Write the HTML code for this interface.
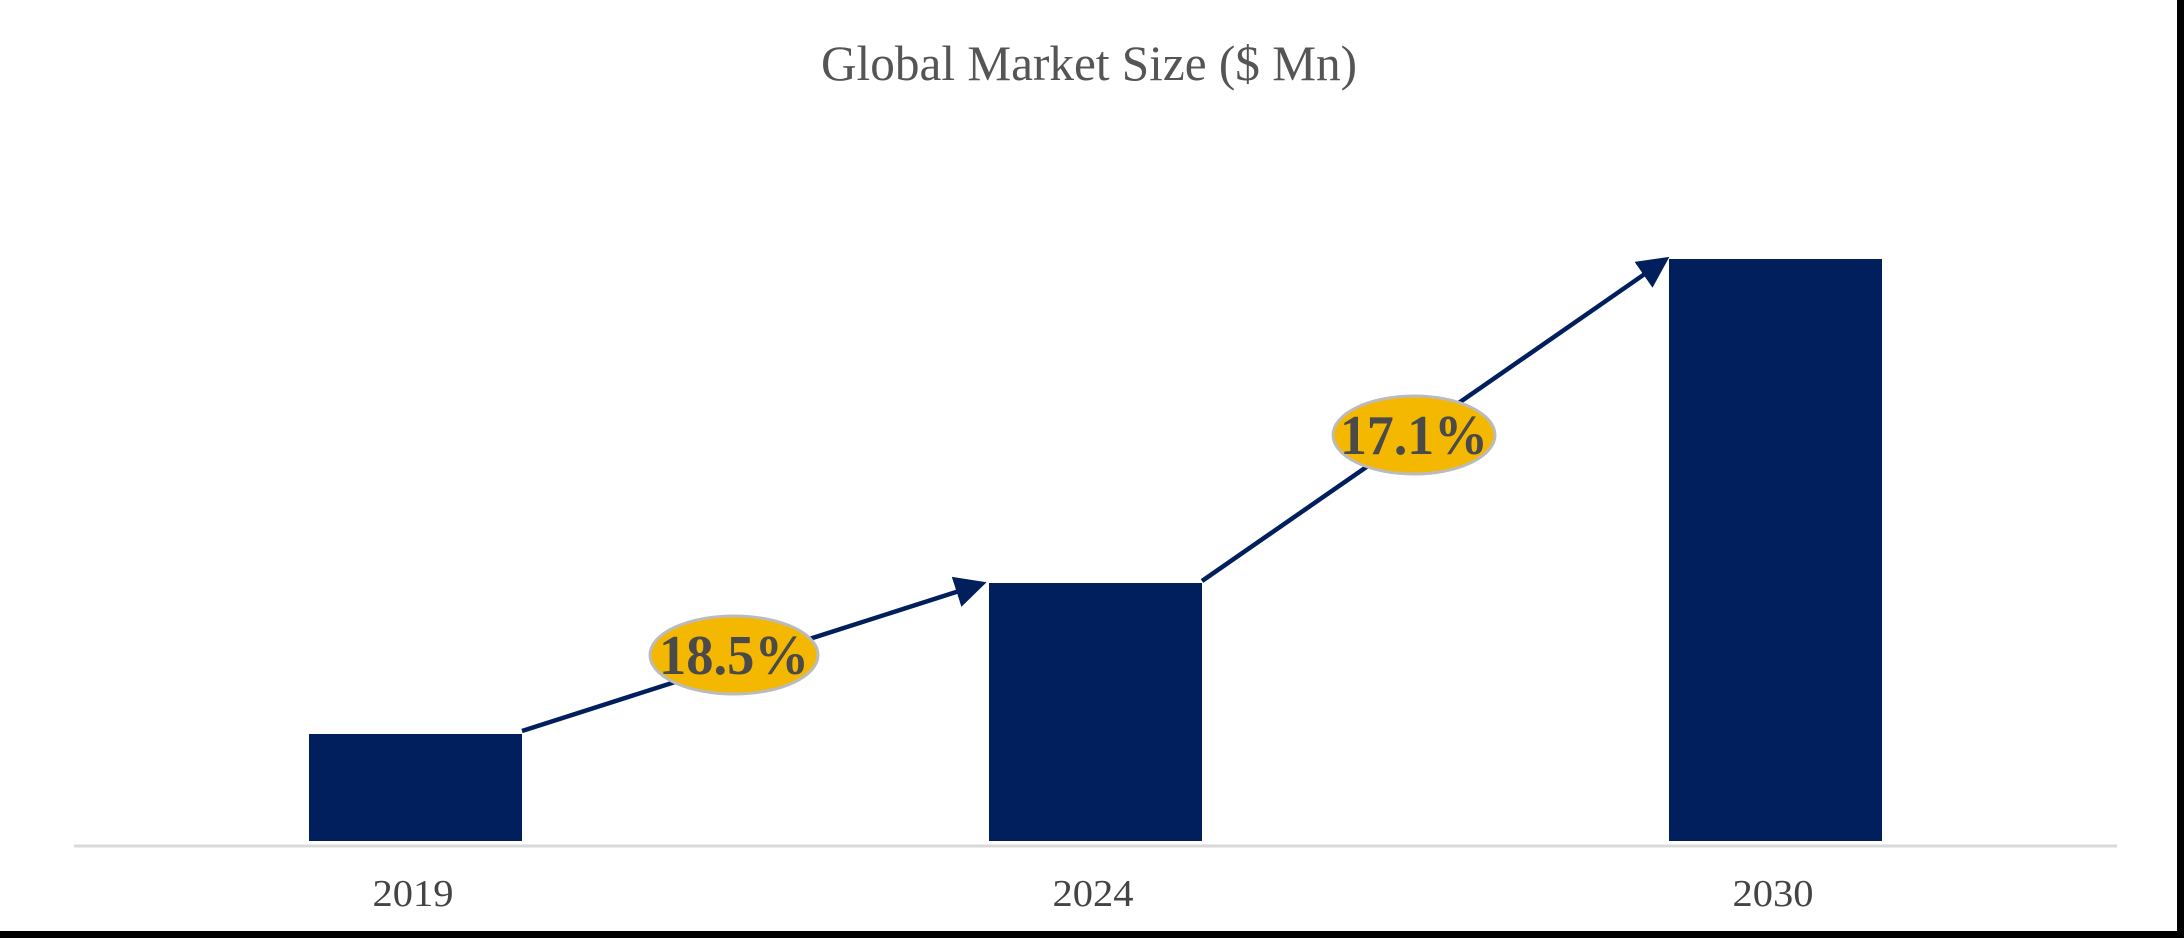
<!DOCTYPE html>
<html><head><meta charset="utf-8"><style>
html,body{margin:0;padding:0;background:#fff;}
svg{display:block;}
</style></head><body>
<svg width="2184" height="938" viewBox="0 0 2184 938" xmlns="http://www.w3.org/2000/svg">
<rect width="2184" height="938" fill="#fff"/>
<text x="1089" y="80" text-anchor="middle" font-family="Liberation Serif, serif" font-size="50" fill="#555" textLength="536" lengthAdjust="spacingAndGlyphs">Global Market Size ($ Mn)</text>
<rect x="309" y="734" width="213" height="107" fill="#001F5C"/>
<rect x="989" y="583" width="213" height="258" fill="#001F5C"/>
<rect x="1669" y="259" width="213" height="582" fill="#001F5C"/>
<line x1="74" y1="846" x2="2117" y2="846" stroke="#d9d9d9" stroke-width="3"/>
<g font-family="Liberation Serif, serif" font-size="38" fill="#444" text-anchor="middle">
<text x="413" y="906" textLength="81" lengthAdjust="spacingAndGlyphs">2019</text>
<text x="1093" y="906" textLength="81" lengthAdjust="spacingAndGlyphs">2024</text>
<text x="1773" y="906" textLength="81" lengthAdjust="spacingAndGlyphs">2030</text>
</g>
<defs><marker id="a" markerWidth="7" markerHeight="7" refX="5" refY="3.5" orient="auto" markerUnits="strokeWidth"><path d="M0,0 L7,3.5 L0,7 Z" fill="#001F5C"/></marker></defs>
<line x1="522" y1="731" x2="978" y2="585" stroke="#001F5C" stroke-width="4.5" marker-end="url(#a)"/>
<line x1="1202" y1="581" x2="1662" y2="262" stroke="#001F5C" stroke-width="4.5" marker-end="url(#a)"/>
<ellipse cx="734" cy="655" rx="84" ry="39" fill="#F5B800" stroke="#bbb" stroke-width="3"/>
<ellipse cx="1414" cy="435" rx="81" ry="39" fill="#F5B800" stroke="#bbb" stroke-width="3"/>
<g font-family="Liberation Serif, serif" font-size="56" font-weight="bold" fill="#4a4a4a" text-anchor="middle">
<text x="734" y="674" textLength="150" lengthAdjust="spacingAndGlyphs">18.5%</text>
<text x="1414" y="454" textLength="148" lengthAdjust="spacingAndGlyphs">17.1%</text>
</g>
<rect x="2177" y="0" width="7" height="938" fill="#000"/>
<rect x="0" y="931" width="2184" height="7" fill="#000"/>
</svg>
</body></html>
